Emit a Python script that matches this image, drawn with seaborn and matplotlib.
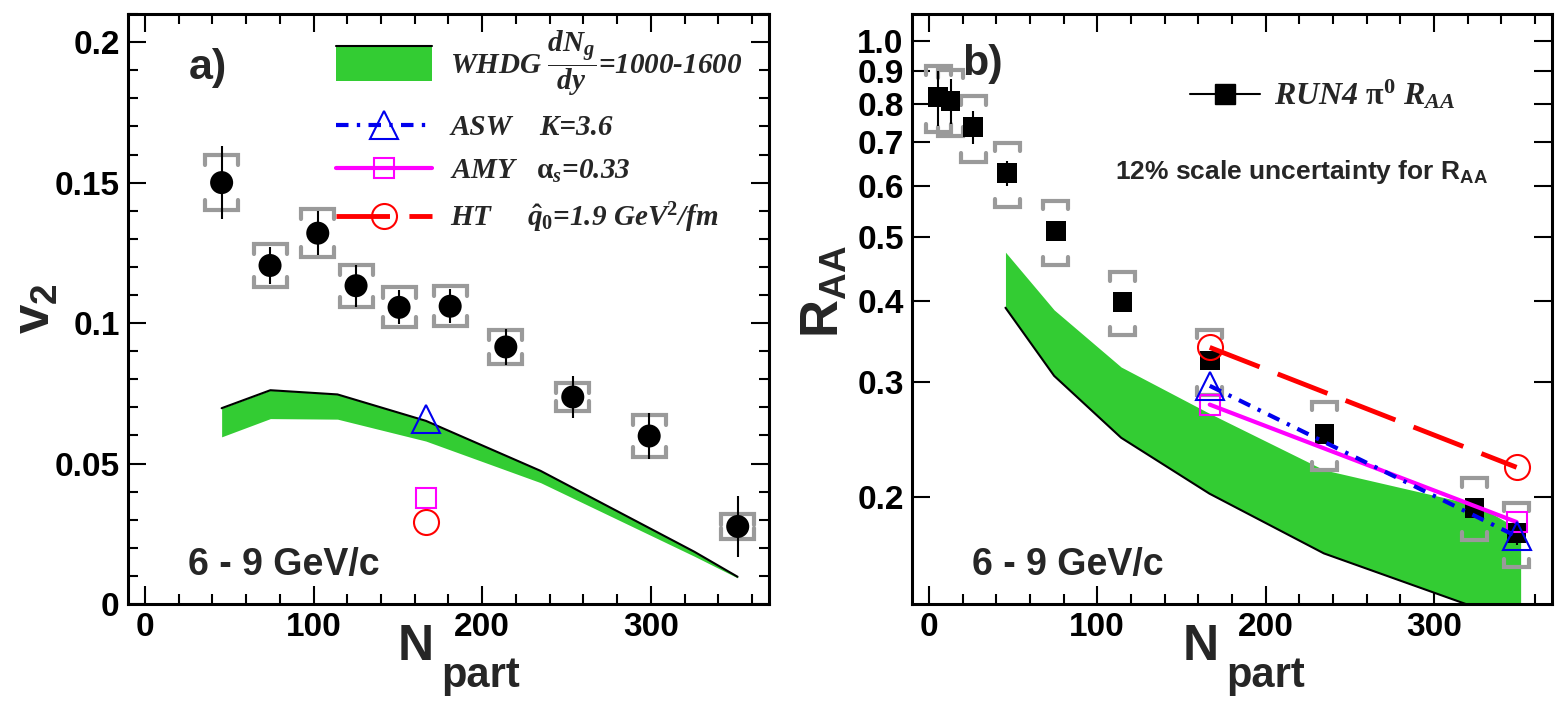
import numpy as np
import matplotlib.pyplot as plt
import seaborn as sns
from matplotlib.lines import Line2D
from matplotlib.patches import Rectangle
from matplotlib.legend_handler import HandlerBase
from matplotlib.ticker import MultipleLocator, NullLocator

# pi0 v2 vs Npart, 6-9 GeV/c
npart_v2 = [45.5, 74.2, 102.5, 125.2, 150.7, 181.0, 214.0, 253.7, 299.0, 351.5]
v2 = [0.150, 0.1205, 0.132, 0.1133, 0.1056, 0.106, 0.0915, 0.0737, 0.0598, 0.0276]
v2_stat = [0.0129, 0.0065, 0.0079, 0.0075, 0.0060, 0.0060, 0.0065, 0.0074, 0.0083, 0.0108]
v2_sys = [0.0098, 0.0078, 0.0086, 0.0075, 0.0071, 0.0071, 0.0062, 0.0049, 0.0074, 0.0043]

# RUN4 pi0 RAA vs Npart
npart_raa = [5.5, 12.9, 26.3, 46.5, 75.4, 115.0, 166.8, 235.0, 324.0, 349.0]
raa = [0.820, 0.810, 0.738, 0.627, 0.511, 0.398, 0.3235, 0.2498, 0.1925, 0.176]
raa_stat = [0.079, 0.065, 0.044, 0.027, 0.015, 0.012, 0.010, 0.008, 0.007, 0.007]
raa_sys = [0.095, 0.094, 0.085, 0.071, 0.058, 0.044, 0.037, 0.030, 0.021, 0.020]

# WHDG band, dNg/dy = 1000-1600
whdg_npart = [45.5, 74.4, 114.2, 166.6, 234.6, 325.8, 351.4]
whdg_v2_hi = [0.0697, 0.0761, 0.0746, 0.0652, 0.0474, 0.0186, 0.0097]
whdg_v2_lo = [0.0595, 0.0660, 0.0658, 0.0580, 0.0432, 0.0170, 0.0093]
whdg_raa_hi = [0.4745, 0.387, 0.3163, 0.2686, 0.2200, 0.1941, 0.1778]
whdg_raa_lo = [0.390, 0.3066, 0.2464, 0.2023, 0.1638, 0.135, 0.128]

# ASW / AMY / HT calculations
model_npart = [166.8, 349.0]
asw_v2, amy_v2, ht_v2 = 0.0658, 0.0376, 0.0293
asw_raa = [0.296, 0.174]
amy_raa = [0.277, 0.183]
ht_raa = [0.339, 0.222]

x_ticks = [0, 100, 200, 300]
x_ticklabels = ['0', '100', '200', '300']
v2_ticks = [0, 0.05, 0.1, 0.15, 0.2]
v2_ticklabels = ['0', '0.05', '0.1', '0.15', '0.2']
raa_ticks = [0.2, 0.3, 0.4, 0.5, 0.6, 0.7, 0.8, 0.9, 1.0]
raa_ticklabels = ['0.2', '0.3', '0.4', '0.5', '0.6', '0.7', '0.8', '0.9', '1.0']

GREEN = '#33cc33'
GRAY = '#9a9a9a'
HT_DASH = (0, (11, 4))
ASW_DASH = (0, (3, 2, 0.8, 2))

sns.set_theme(style="ticks")
plt.rcParams['font.family'] = ['Liberation Sans', 'DejaVu Sans']
plt.rcParams['font.weight'] = 'bold'
plt.rcParams['mathtext.fontset'] = 'custom'
plt.rcParams['mathtext.rm'] = 'Liberation Serif:bold'
plt.rcParams['mathtext.it'] = 'Liberation Serif:italic:bold'
plt.rcParams['mathtext.bf'] = 'Liberation Serif:bold'
plt.rcParams['mathtext.sf'] = 'Liberation Sans:bold'


class BandHandler(HandlerBase):
    # green box with the black edge line on top, as in the ROOT legend
    def create_artists(self, legend, orig_handle, xdescent, ydescent,
                       width, height, fontsize, trans):
        h = height * 1.75
        y0 = -ydescent + height / 2 - h / 2
        rect = Rectangle((-xdescent, y0), width, h, facecolor=GREEN,
                         edgecolor='none', transform=trans)
        line = Line2D([-xdescent, -xdescent + width], [y0 + h, y0 + h],
                      color='black', lw=1.5, transform=trans)
        return [rect, line]


def brackets(ax, x, y, err, half_w, leg, log=False):
    for xi, yi, ei in zip(x, y, err):
        top, bot = yi + ei, yi - ei
        if log:
            top_leg, bot_leg = top / leg, bot * leg
        else:
            top_leg, bot_leg = top - leg, bot + leg
        ax.plot([xi - half_w, xi - half_w, xi + half_w, xi + half_w],
                [top_leg, top, top, top_leg], color=GRAY, lw=3,
                solid_joinstyle='miter', zorder=3)
        ax.plot([xi - half_w, xi - half_w, xi + half_w, xi + half_w],
                [bot_leg, bot, bot, bot_leg], color=GRAY, lw=3,
                solid_joinstyle='miter', zorder=3)


def style_axes(ax):
    for s in ax.spines.values():
        s.set_linewidth(2.2)
        s.set_color('black')
    ax.tick_params(which='both', direction='in', top=True, right=True,
                   width=1.5, colors='black', labelsize=24, pad=6)
    ax.tick_params(which='major', length=13)
    ax.tick_params(which='minor', length=7)
    ax.set_xlim(-10, 370)
    ax.xaxis.set_minor_locator(MultipleLocator(20))
    ax.set_xticks(x_ticks, x_ticklabels)
    ax.grid(False)


def npart_title(ax, x0, dx):
    # ROOT-style title: big N with a well lowered subscript
    ax.text(x0, -0.095, 'N', transform=ax.transAxes, fontsize=36,
            fontweight='bold', ha='left', va='baseline')
    ax.text(x0 + dx, -0.14, 'part', transform=ax.transAxes, fontsize=30,
            fontweight='bold', ha='left', va='baseline')


fig = plt.figure(figsize=(15.67, 7.16), dpi=100)
ax1 = fig.add_axes([0.0817, 0.1564, 0.409, 0.824])
ax2 = fig.add_axes([0.582, 0.1564, 0.4084, 0.824])

# ---- panel a) v2 ----
ax1.fill_between(whdg_npart, whdg_v2_lo, whdg_v2_hi, color=GREEN, lw=0, zorder=1)
sns.lineplot(x=whdg_npart, y=whdg_v2_hi, color='black', lw=1.5, ax=ax1, zorder=2)
brackets(ax1, npart_v2, v2, v2_sys, 9.8, 0.0036)
ax1.errorbar(npart_v2, v2, yerr=v2_stat, fmt='none', ecolor='black',
             elinewidth=1.5, capsize=0, zorder=4)
sns.scatterplot(x=npart_v2, y=v2, color='black', marker='o', s=275,
                edgecolor='none', ax=ax1, zorder=5)
ax1.plot([model_npart[0]], [asw_v2], marker='^', ms=20, mfc='none',
         mec='#0000ee', mew=1.5, ls='none', zorder=6)
ax1.plot([model_npart[0]], [amy_v2], marker='s', ms=15, mfc='none',
         mec='#ff00ff', mew=1.5, ls='none', zorder=6)
ax1.plot([model_npart[0]], [ht_v2], marker='o', ms=18, mfc='none',
         mec='#ff0000', mew=1.5, ls='none', zorder=6)

style_axes(ax1)
ax1.set_ylim(0, 0.21)
ax1.set_yticks(v2_ticks, v2_ticklabels)
ax1.yaxis.set_minor_locator(MultipleLocator(0.01))
ax1.set_ylabel(r'$\mathsf{v_2}$', fontsize=38)
ax1.yaxis.set_label_coords(-0.105, 0.5)
npart_title(ax1, 0.421, 0.067)

ax1.text(0.094, 0.908, 'a)', transform=ax1.transAxes, fontsize=31,
         fontweight='bold', va='center', ha='left')
ax1.text(0.094, 0.066, '6 - 9 GeV/c', transform=ax1.transAxes, fontsize=27,
         fontweight='bold', va='center', ha='left')

h_whdg = Rectangle((0, 0), 1, 1)
h_asw = Line2D([], [], color='#0000ee', lw=3, linestyle=ASW_DASH,
               marker='^', ms=20, mfc='none', mec='#0000ee', mew=1.5)
h_amy = Line2D([], [], color='#ff00ff', lw=3, marker='s', ms=15,
               mfc='none', mec='#ff00ff', mew=1.5)
h_ht = Line2D([], [], color='#ff0000', lw=3.5, linestyle=HT_DASH, marker='o',
              ms=18, mfc='none', mec='#ff0000', mew=1.5)
leg1 = ax1.legend([h_whdg, h_asw, h_amy, h_ht],
                  [r'WHDG $\dfrac{dN_{g}}{dy}$=1000-1600',
                   'ASW    K=3.6',
                   r'AMY   $\mathrm{\alpha}_{s}$=0.33',
                   r'HT     $\hat{q}_{0}$=1.9 GeV$^{2}$/fm'],
                  handler_map={Rectangle: BandHandler()},
                  loc='upper left', bbox_to_anchor=(0.3245, 0.975),
                  frameon=False, borderpad=0, borderaxespad=0,
                  handlelength=3.3, handletextpad=0.62, labelspacing=0.55,
                  prop={'family': 'Liberation Serif', 'style': 'italic',
                        'weight': 'bold', 'size': 21})

# ---- panel b) RAA ----
ax2.set_yscale('log')
ax2.fill_between(whdg_npart, whdg_raa_lo, whdg_raa_hi, color=GREEN, lw=0, zorder=1)
sns.lineplot(x=whdg_npart, y=whdg_raa_lo, color='black', lw=1.5, ax=ax2, zorder=2)
brackets(ax2, npart_raa, raa, raa_sys, 7.4, 1.03, log=True)
ax2.errorbar(npart_raa, raa, yerr=raa_stat, fmt='none', ecolor='black',
             elinewidth=1.5, capsize=0, zorder=4)
sns.scatterplot(x=npart_raa, y=raa, color='black', marker='s', s=200,
                edgecolor='none', ax=ax2, zorder=5)
sns.lineplot(x=model_npart, y=ht_raa, color='#ff0000', lw=3.5, dashes=False,
             linestyle=HT_DASH, marker='o', markersize=18,
             markerfacecolor='none', markeredgecolor='#ff0000',
             markeredgewidth=1.5, ax=ax2, zorder=6)
sns.lineplot(x=model_npart, y=amy_raa, color='#ff00ff', lw=3, marker='s',
             markersize=15, markerfacecolor='none', markeredgecolor='#ff00ff',
             markeredgewidth=1.5, ax=ax2, zorder=6)
sns.lineplot(x=model_npart, y=asw_raa, color='#0000ee', lw=3, dashes=False,
             linestyle=ASW_DASH, marker='^',
             markersize=20, markerfacecolor='none', markeredgecolor='#0000ee',
             markeredgewidth=1.5, ax=ax2, zorder=7)

style_axes(ax2)
ax2.set_ylim(0.137, 1.10)
ax2.set_yticks(raa_ticks, raa_ticklabels)
ax2.yaxis.set_minor_locator(NullLocator())
ax2.set_ylabel(r'$\mathsf{R_{AA}}$', fontsize=38)
ax2.yaxis.set_label_coords(-0.097, 0.53)
npart_title(ax2, 0.4234, 0.067)

ax2.text(0.078, 0.915, 'b)', transform=ax2.transAxes, fontsize=31,
         fontweight='bold', va='center', ha='left')
ax2.text(0.094, 0.066, '6 - 9 GeV/c', transform=ax2.transAxes, fontsize=27,
         fontweight='bold', va='center', ha='left')
ax2.text(0.317, 0.732, r'12% scale uncertainty for $\mathsf{R_{AA}}$',
         transform=ax2.transAxes, fontsize=19, fontweight='bold',
         va='center', ha='left')

h_run4 = Line2D([], [], color='black', lw=1.5, marker='s', ms=14,
                mfc='black', mec='black')
ax2.legend([h_run4], [r'RUN4 $\mathrm{\pi}^{\mathit{0}}$ $R_{AA}$'],
           loc='center left', bbox_to_anchor=(0.434, 0.863), frameon=False,
           borderpad=0, borderaxespad=0, handlelength=2.2, handletextpad=0.45,
           prop={'family': 'Liberation Serif', 'style': 'italic',
                 'weight': 'bold', 'size': 23})

fig.savefig('out.png', dpi=100)
